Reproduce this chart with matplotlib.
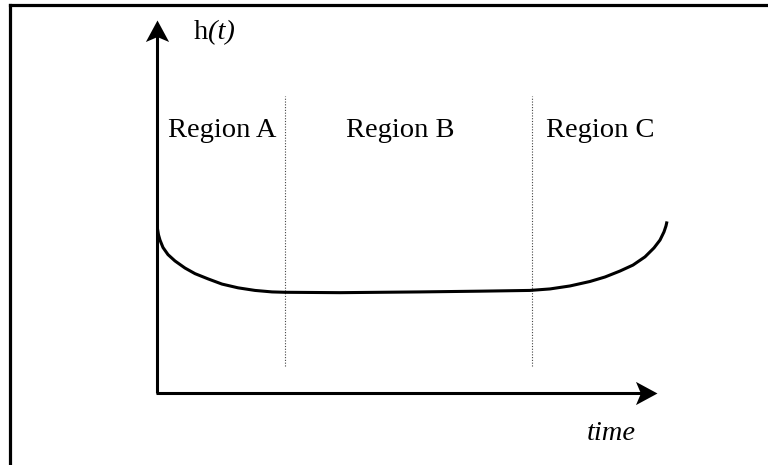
import matplotlib.pyplot as plt
from matplotlib.lines import Line2D

plt.rcParams['font.family'] = ['Liberation Serif', 'DejaVu Serif']

# hazard rate curve (time units, h units)
time_pts = [0.01, 0.03, 0.06, 0.12, 0.22, 0.36, 0.56, 0.76, 1.02, 1.30, 1.62,
            1.96, 2.30, 2.56, 3.66, 5.26, 6.46, 7.46, 7.86, 8.26, 8.66, 8.96,
            9.26, 9.52, 9.76, 9.94, 10.06, 10.14, 10.18, 10.20]
hazard = [4.40, 4.24, 4.10, 3.90, 3.71, 3.54, 3.35, 3.20, 3.06, 2.92, 2.82,
          2.75, 2.71, 2.70, 2.69, 2.71, 2.73, 2.75, 2.79, 2.87, 2.99, 3.11,
          3.27, 3.43, 3.65, 3.89, 4.10, 4.32, 4.48, 4.60]

region_names = ['Region A', 'Region B', 'Region C']
region_centers = [1.3, 4.86, 8.86]
boundaries = [2.56, 7.5]

fig = plt.figure(figsize=(7.68, 4.65), dpi=100)

# frame (only left and top edges are visible in the crop)
fig.add_artist(Line2D([10/768, 10/768], [0, 1 - 5/465], color='black', lw=2.3,
                      transform=fig.transFigure, solid_capstyle='projecting'))
fig.add_artist(Line2D([10/768, 1], [1 - 5/465, 1 - 5/465], color='black', lw=2.3,
                      transform=fig.transFigure, solid_capstyle='projecting'))

ax = fig.add_axes([157/768, (465-393)/465, (677-157)/768, (393-20)/465])
ax.set_xlim(0, 10.4)
ax.set_ylim(0, 10)
ax.axis('off')

# stealth style arrow heads, tip at the origin
head_right = [(0, 0), (-1, 0.54), (-0.77, 0), (-1, -0.54), (0, 0)]
head_up = [(0, 0), (-0.54, -1), (0, -0.77), (0.54, -1), (0, 0)]

ax.plot([0, 0], [0, 9.6], color='black', lw=2.2, clip_on=False,
        solid_capstyle='butt')
ax.plot([-0.03, 9.7], [0, 0], color='black', lw=2.2, clip_on=False,
        solid_capstyle='butt')
ax.plot([0], [10], marker=head_up, ms=31, color='black', mew=0, clip_on=False)
ax.plot([10], [0], marker=head_right, ms=31, color='black', mew=0, clip_on=False)

for b in boundaries:
    ax.plot([b, b], [0.72, 7.96], color='#444444', lw=0.8, ls=(0, (1, 1.5)))

ax.plot(time_pts, hazard, color='black', lw=2.2, clip_on=False,
        solid_capstyle='butt', solid_joinstyle='round')

for name, c in zip(region_names, region_centers):
    ax.text(c, 6.86, name, ha='center', va='baseline', fontsize=20.5)

h_txt = ax.text(0.74, 9.49, 'h', ha='left', va='baseline', fontsize=20.5)
ax.annotate('(t)', xy=(1, 0), xycoords=h_txt, ha='left', va='bottom',
            fontsize=20.5, style='italic')

ax.text(9.08, -1.26, 'time', ha='center', va='baseline', fontsize=20.5,
        style='italic')

fig.savefig('out.png', dpi=100)
